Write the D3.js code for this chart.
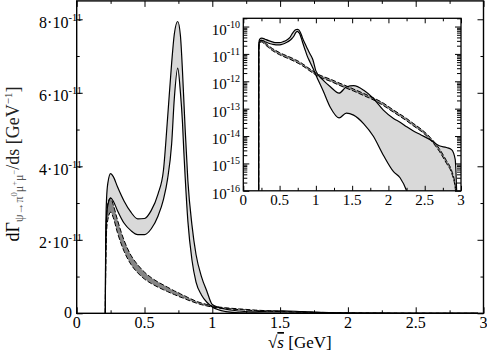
<!DOCTYPE html>
<html>
<head>
<meta charset="utf-8">
<script src="https://cdn.jsdelivr.net/npm/d3@7/dist/d3.min.js"></script>
<style>
    html, body { margin: 0; padding: 0; background: #fff; }
    svg { display: block; }
    svg text { font-family: 'Liberation Serif', 'Times New Roman', Times, 'DejaVu Serif', serif; }
    .axis path, .axis line { stroke: #000; }
</style>
</head>
<body>
<div id="chart"></div>
<script>
// sqrt(s) grid [GeV]
const sqrtS = [0.211, 0.213, 0.216, 0.22, 0.23, 0.25, 0.27, 0.30, 0.35, 0.40,
    0.45, 0.50, 0.55, 0.60, 0.64, 0.67, 0.70, 0.72, 0.745, 0.765,
    0.78, 0.79, 0.80, 0.82, 0.85, 0.88, 0.92, 0.96, 1.0, 1.1,
    1.2, 1.32, 1.42, 1.52, 1.66, 1.79, 1.93, 2.07, 2.16, 2.25,
    2.35, 2.45, 2.58, 2.7, 2.8, 2.87, 2.92, 2.94, 2.96];

// light band (with rho/omega), upper and lower edge [GeV^-1]
const lightUpper = [0, 1.6e-11, 2.6e-11, 3.1e-11, 3.55e-11, 3.8e-11, 3.72e-11, 3.45e-11, 3.05e-11, 2.75e-11,
    2.57e-11, 2.58e-11, 2.8e-11, 3.25e-11, 3.9e-11, 5.3e-11, 6.8e-11, 7.6e-11, 7.94e-11, 7.55e-11,
    6.6e-11, 5.8e-11, 5.0e-11, 3.6e-11, 2.4e-11, 1.6e-11, 1.0e-11, 0.6e-11, 2.4e-12, 1.1e-12,
    6.3e-13, 3.7e-13, 6.2e-13, 6.9e-13, 4.7e-13, 2.4e-13, 8.9e-14, 4.4e-14, 3.2e-14, 2.2e-14,
    1.5e-14, 1.1e-14, 7.2e-15, 4.4e-15, 3.8e-15, 3.2e-15, 1.4e-15, 1e-16, 1e-18];
const lightLower = [0, 1.3e-11, 2.1e-11, 2.6e-11, 2.95e-11, 3.14e-11, 3.05e-11, 2.8e-11, 2.45e-11, 2.25e-11,
    2.14e-11, 2.14e-11, 2.3e-11, 2.65e-11, 3.1e-11, 3.65e-11, 4.6e-11, 5.85e-11, 6.67e-11, 6.0e-11,
    5.2e-11, 4.4e-11, 3.7e-11, 2.5e-11, 1.45e-11, 0.85e-11, 0.5e-11, 0.3e-11, 1.7e-12, 4.5e-13,
    1.1e-13, 4.6e-14, 6.9e-14, 5.8e-14, 2.8e-14, 1e-14, 2e-15, 5e-16, 3e-16, 1e-16,
    1e-17, 1e-18, 1e-18, 1e-18, 1e-18, 1e-18, 1e-18, 1e-18, 1e-18];

// dark band, upper and lower edge [GeV^-1]
const darkUpper = [0, 1.2e-11, 2.1e-11, 2.6e-11, 3.0e-11, 3.13e-11, 2.95e-11, 2.55e-11, 1.98e-11, 1.58e-11,
    1.32e-11, 1.12e-11, 0.97e-11, 0.85e-11, 0.77e-11, 0.71e-11, 0.65e-11, 0.61e-11, 0.57e-11, 0.53e-11,
    0.5e-11, 0.49e-11, 0.47e-11, 0.43e-11, 0.38e-11, 0.33e-11, 0.28e-11, 0.24e-11, 0.2e-11, 1.5e-12,
    1.2e-12, 8.7e-13, 6.8e-13, 5.2e-13, 3.6e-13, 2.5e-13, 1.6e-13, 8.9e-14, 6.3e-14, 4.4e-14,
    2.8e-14, 1.8e-14, 8.7e-15, 3.5e-15, 1.26e-15, 5.6e-16, 1.6e-16, 5e-17, 1e-18];
const darkLower = [0, 0.9e-11, 1.7e-11, 2.2e-11, 2.55e-11, 2.75e-11, 2.6e-11, 2.2e-11, 1.68e-11, 1.33e-11,
    1.1e-11, 0.93e-11, 0.81e-11, 0.71e-11, 0.64e-11, 0.59e-11, 0.54e-11, 0.51e-11, 0.47e-11, 0.44e-11,
    0.42e-11, 0.41e-11, 0.39e-11, 0.36e-11, 0.32e-11, 0.28e-11, 0.235e-11, 0.2e-11, 0.17e-11, 1.26e-12,
    1.0e-12, 7.2e-13, 5.6e-13, 4.4e-13, 3.0e-13, 2.1e-13, 1.3e-13, 7.4e-14, 5.2e-14, 3.6e-14,
    2.3e-14, 1.5e-14, 7.2e-15, 2.8e-15, 1e-15, 4.5e-16, 1.26e-16, 4e-17, 1e-18];

// ticks
const mainXTicks = [0, 0.5, 1, 1.5, 2, 2.5, 3];
const mainXMinor = [0.25, 0.75, 1.25, 1.75, 2.25, 2.75];
const mainYTicks = [0, 2e-11, 4e-11, 6e-11, 8e-11];
const mainYLabels = [['0', ''], ['2·10', '-11'], ['4·10', '-11'], ['6·10', '-11'], ['8·10', '-11']];
const mainYMinor = [1e-11, 3e-11, 5e-11, 7e-11];
const insetXLabels = ['0', '0.5', '1', '1.5', '2', '2.5', '3'];
const insetYExponents = [-16, -15, -14, -13, -12, -11, -10];

const W = 487, H = 354;
const FONT = "'Liberation Serif', 'Times New Roman', Times, 'DejaVu Serif', serif";
const svg = d3.select('#chart').append('svg').attr('width', W).attr('height', H)
    .attr('font-family', FONT);

const rows = sqrtS.map((s, i) => ({
    s, lu: lightUpper[i], ll: lightLower[i], du: darkUpper[i], dl: darkLower[i]
}));

// text with sub/superscript segments: [text, fontSize, baselineShift, colour]
function richText(sel, segs, fill) {
    let prev = 0;
    segs.forEach(([t, size, shift, color]) => {
        sel.append('tspan')
            .attr('font-size', size)
            .attr('dy', shift - prev)
            .attr('fill', color || fill || '#000')
            .text(t);
        prev = shift;
    });
}

function drawBands(g, x, y, floor) {
    const v = d => Math.max(d, floor);
    g.append('path').datum(rows)
        .attr('fill', '#d9d9d9')
        .attr('d', d3.area().curve(d3.curveMonotoneX)
            .x(d => x(d.s)).y0(d => y(v(d.ll))).y1(d => y(v(d.lu))));
    g.append('path').datum(rows)
        .attr('fill', '#858585')
        .attr('d', d3.area().curve(d3.curveMonotoneX)
            .x(d => x(d.s)).y0(d => y(v(d.dl))).y1(d => y(v(d.du))));
    const line = key => d3.line().curve(d3.curveMonotoneX).x(d => x(d.s)).y(d => y(v(d[key])));
    ['du', 'dl'].forEach(k => {
        g.append('path').datum(rows)
            .attr('fill', 'none').attr('stroke', '#000').attr('stroke-width', 1)
            .attr('stroke-dasharray', '5,2')
            .attr('d', line(k));
    });
    ['lu', 'll'].forEach(k => {
        g.append('path').datum(rows)
            .attr('fill', 'none').attr('stroke', '#000').attr('stroke-width', 1.2)
            .attr('d', line(k));
    });
}

// ---------- main panel ----------
const m = { left: 76.7, right: 483.5, top: 0.9, bottom: 313.3 };
const x = d3.scaleLinear().domain([0, 3]).range([m.left, m.right]);
const y = d3.scaleLinear().domain([0, 8.5e-11]).range([m.bottom, m.top]);

svg.append('defs').append('clipPath').attr('id', 'mainClip')
    .append('rect').attr('x', m.left).attr('y', m.top)
    .attr('width', m.right - m.left).attr('height', m.bottom - m.top);

drawBands(svg.append('g').attr('clip-path', 'url(#mainClip)'), x, y, 0);

const tickAxis = (gen, tr) => svg.append('g').attr('class', 'axis')
    .attr('transform', tr).call(gen).call(g => g.select('.domain').remove());

tickAxis(d3.axisBottom(x).tickValues(mainXTicks).tickSize(-6).tickFormat(''), `translate(0,${m.bottom})`);
tickAxis(d3.axisBottom(x).tickValues(mainXMinor).tickSize(-3).tickFormat(''), `translate(0,${m.bottom})`);
tickAxis(d3.axisTop(x).tickValues(mainXTicks).tickSize(-6).tickFormat(''), `translate(0,${m.top})`);
tickAxis(d3.axisTop(x).tickValues(mainXMinor).tickSize(-3).tickFormat(''), `translate(0,${m.top})`);
tickAxis(d3.axisLeft(y).tickValues(mainYTicks).tickSize(-6).tickFormat(''), `translate(${m.left},0)`);
tickAxis(d3.axisLeft(y).tickValues(mainYMinor).tickSize(-3).tickFormat(''), `translate(${m.left},0)`);
tickAxis(d3.axisRight(y).tickValues(mainYTicks).tickSize(-6).tickFormat(''), `translate(${m.right},0)`);
tickAxis(d3.axisRight(y).tickValues(mainYMinor).tickSize(-3).tickFormat(''), `translate(${m.right},0)`);

svg.append('rect').attr('x', m.left).attr('y', m.top)
    .attr('width', m.right - m.left).attr('height', m.bottom - m.top)
    .attr('fill', 'none').attr('stroke', '#000').attr('stroke-width', 1.4);

svg.append('g').selectAll('text').data(mainXTicks).join('text')
    .attr('x', d => x(d)).attr('y', 328)
    .attr('text-anchor', 'middle').attr('font-size', 16)
    .text(d => d);

mainYTicks.forEach((v, i) => {
    const [base, sup] = mainYLabels[i];
    const t = svg.append('text').attr('text-anchor', 'end')
        .attr('x', sup ? 82 : 72).attr('y', y(v) + (sup ? 8.5 : 5));
    richText(t, sup ? [[base, 16, 0], [sup, 10.5, -7]] : [[base, 16, 0]]);
});

// axis titles
const xt = svg.append('text').attr('x', 268).attr('y', 348).attr('font-size', 17);
xt.append('tspan').text('√');
xt.append('tspan').attr('font-style', 'italic').attr('text-decoration', 'overline').text('s');
xt.append('tspan').text(' [GeV]');

const yt = svg.append('text')
    .attr('transform', 'translate(19,164) rotate(-90)')
    .attr('text-anchor', 'middle');
richText(yt, [
    ['dΓ', 18, 0],
    ['ψ→π', 12, 4, '#555'], ['0', 8.5, -2, '#555'], ['μ', 12, 4, '#555'], ['+', 8.5, -2, '#555'],
    ['μ', 12, 4, '#555'], ['−', 8.5, -2, '#555'],
    ['/ds [GeV', 18, 0, '#222'], ['−1', 11, -7, '#222'], [']', 18, 0, '#222']
]);

// ---------- inset ----------
const n = { left: 243.3, right: 461, top: 18.3, bottom: 190.8 };
const xi = d3.scaleLinear().domain([0, 3]).range([n.left, n.right]);
const yi = d3.scaleLog().domain([1e-16, 2e-10]).range([n.bottom, n.top]);

svg.append('rect').attr('x', n.left).attr('y', n.top)
    .attr('width', n.right - n.left).attr('height', n.bottom - n.top)
    .attr('fill', '#fff');

svg.select('defs').append('clipPath').attr('id', 'insetClip')
    .append('rect').attr('x', n.left).attr('y', n.top)
    .attr('width', n.right - n.left).attr('height', n.bottom - n.top);

drawBands(svg.append('g').attr('clip-path', 'url(#insetClip)'), xi, yi, 1e-18);

const yMinor = [];
insetYExponents.forEach(e => {
    for (let k = 2; k <= 9; k++) {
        const v = k * Math.pow(10, e);
        if (v <= 2e-10) yMinor.push(v);
    }
});
const yMajor = insetYExponents.map(e => Math.pow(10, e));

tickAxis(d3.axisBottom(xi).tickValues(mainXTicks).tickSize(-5).tickFormat(''), `translate(0,${n.bottom})`);
tickAxis(d3.axisBottom(xi).tickValues(mainXMinor).tickSize(-3).tickFormat(''), `translate(0,${n.bottom})`);
tickAxis(d3.axisTop(xi).tickValues(mainXTicks).tickSize(-5).tickFormat(''), `translate(0,${n.top})`);
tickAxis(d3.axisTop(xi).tickValues(mainXMinor).tickSize(-3).tickFormat(''), `translate(0,${n.top})`);
tickAxis(d3.axisLeft(yi).tickValues(yMajor).tickSize(-6).tickFormat(''), `translate(${n.left},0)`);
tickAxis(d3.axisLeft(yi).tickValues(yMinor).tickSize(-4).tickFormat(''), `translate(${n.left},0)`);
tickAxis(d3.axisRight(yi).tickValues(yMajor).tickSize(-6).tickFormat(''), `translate(${n.right},0)`);
tickAxis(d3.axisRight(yi).tickValues(yMinor).tickSize(-4).tickFormat(''), `translate(${n.right},0)`);

svg.append('rect').attr('x', n.left).attr('y', n.top)
    .attr('width', n.right - n.left).attr('height', n.bottom - n.top)
    .attr('fill', 'none').attr('stroke', '#000').attr('stroke-width', 1.3);

svg.append('g').selectAll('text').data(mainXTicks).join('text')
    .attr('x', d => xi(d)).attr('y', 205)
    .attr('text-anchor', 'middle').attr('font-size', 15)
    .text((d, i) => insetXLabels[i]);

insetYExponents.forEach(e => {
    const t = svg.append('text').attr('text-anchor', 'end')
        .attr('x', 240).attr('y', yi(Math.pow(10, e)) + 8);
    richText(t, [['10', 15, 0], [String(e), 10, -7]]);
});
</script>
</body>
</html>
